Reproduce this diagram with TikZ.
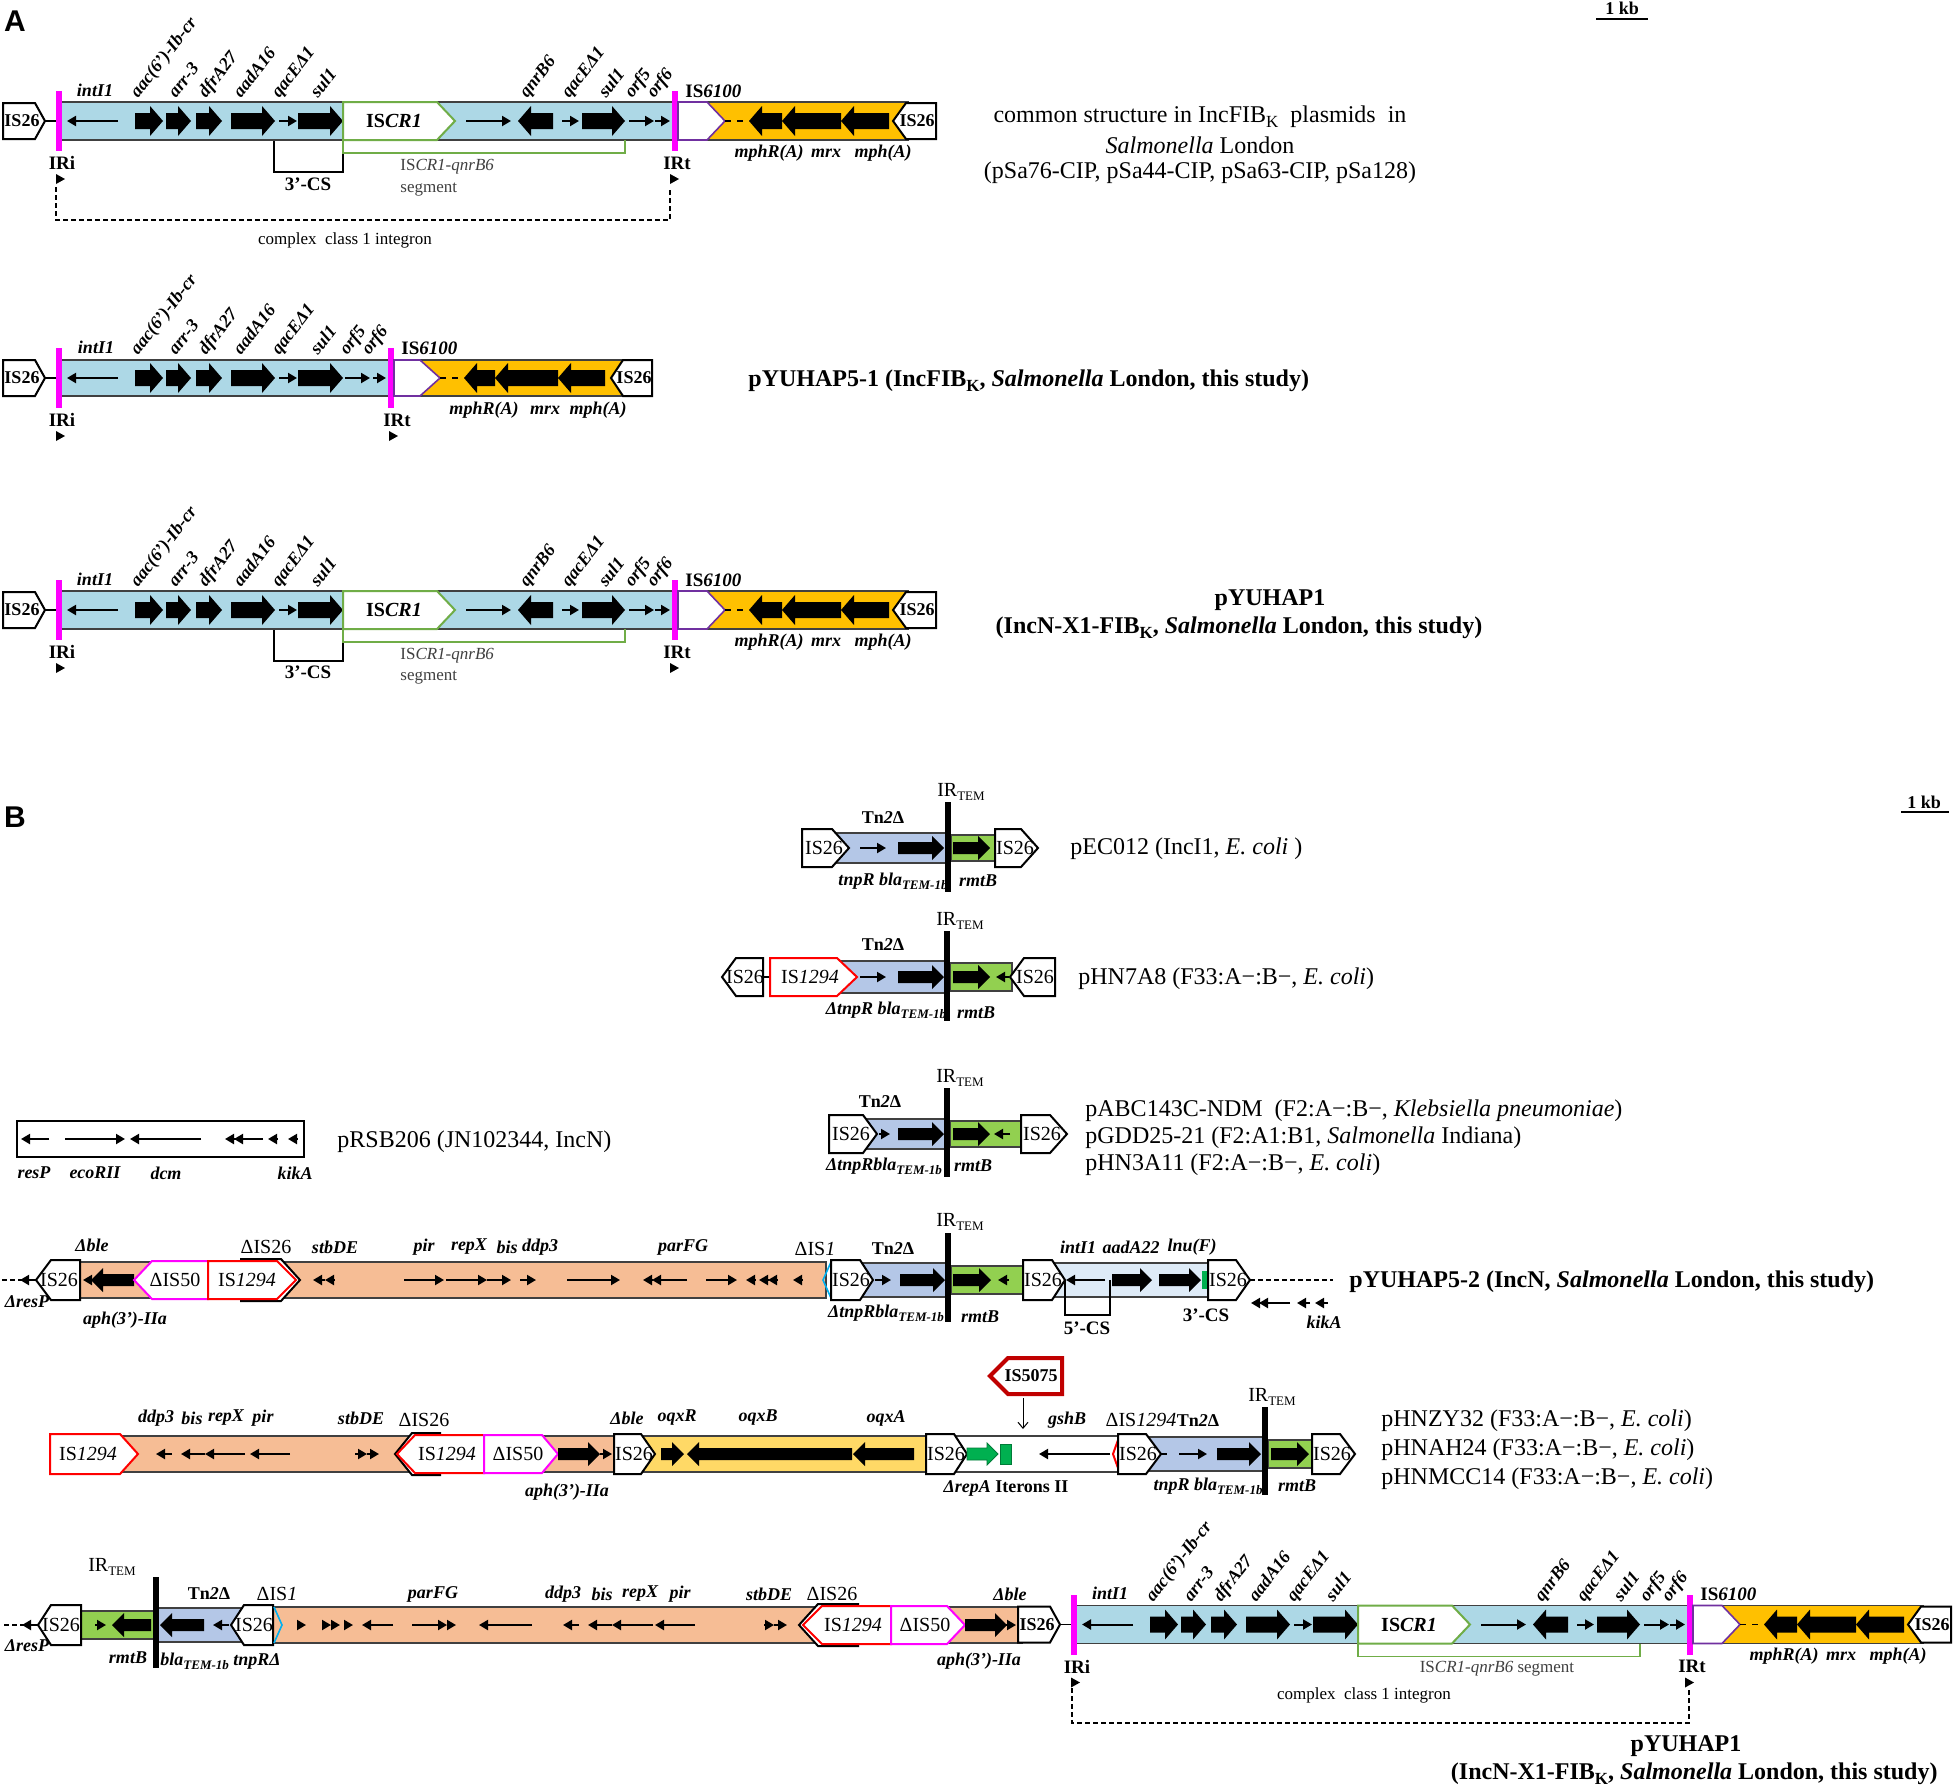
\documentclass[tikz,border=0pt]{standalone}
\usepackage{fontspec}
\setmainfont{Liberation Serif}
\newfontfamily\lsans{Liberation Sans}
\usetikzlibrary{arrows.meta}
\definecolor{cLB}{RGB}{173,216,230}
\definecolor{cGold}{RGB}{255,192,0}
\definecolor{cPeach}{RGB}{246,189,149}
\definecolor{cSteel}{RGB}{180,199,231}
\definecolor{cGreen}{RGB}{146,208,80}
\definecolor{cYel}{RGB}{255,217,102}
\definecolor{cPale}{RGB}{222,235,247}
\definecolor{cMag}{RGB}{255,0,255}
\definecolor{cPurp}{RGB}{112,48,160}
\definecolor{cCR}{RGB}{112,173,71}
\definecolor{cRed}{RGB}{255,0,0}
\definecolor{cDRed}{RGB}{192,0,0}
\definecolor{cCyan}{RGB}{0,176,240}
\definecolor{cGrn}{RGB}{0,176,80}
\definecolor{cTxt}{RGB}{64,64,64}
\newcommand\shpR[6]{\draw[#6] (#1,#4-#5) -- (#2,#4-#5) -- (#3,#4) -- (#2,#4+#5) -- (#1,#4+#5) -- cycle;}
\newcommand\shpL[6]{\draw[#6] (#3,#4-#5) -- (#2,#4-#5) -- (#1,#4) -- (#2,#4+#5) -- (#3,#4+#5) -- cycle;}
\newcommand\bandbox[5]{\filldraw[fill=#5,draw=black!75,line width=0.6pt] (#1,#3-#4) rectangle (#2,#3+#4);}
\newcommand\bR[6]{\fill (#1,#3-#4) -- (#2-#6,#3-#4) -- (#2-#6,#3-#5) -- (#2,#3) -- (#2-#6,#3+#5) -- (#2-#6,#3+#4) -- (#1,#3+#4) -- cycle;}
\newcommand\bL[6]{\fill (#2,#3-#4) -- (#1+#6,#3-#4) -- (#1+#6,#3-#5) -- (#1,#3) -- (#1+#6,#3+#5) -- (#1+#6,#3+#4) -- (#2,#3+#4) -- cycle;}
\newcommand\aR[3]{\bR{#1}{#2}{#3}{8}{15}{13}}
\newcommand\aL[3]{\bL{#1}{#2}{#3}{8}{15}{13}}
\newcommand\xR[3]{\bR{#1}{#2}{#3}{6}{12}{12}}
\newcommand\xL[3]{\bL{#1}{#2}{#3}{6}{12}{12}}
\newcommand\sA[3]{\draw[sarr] (#1,#3) -- (#2,#3);}
\newcommand\tri[2]{\fill (#1-4,#2-5) -- (#1+5,#2) -- (#1-4,#2+5) -- cycle;}
\newcommand\sbs[1]{\raisebox{-0.45ex}{\fontsize{6.5}{7}\selectfont #1}}
\newcommand\sbl[1]{\raisebox{-0.45ex}{\fontsize{8.5}{9}\selectfont #1}}
\tikzset{
 isb/.style={draw=black,line width=1pt,fill=white},
 sarr/.style={line width=1pt,-{Triangle[length=4.5pt,width=5pt]}},
 lbl/.style={font=\fontsize{9}{10}\selectfont\bfseries\itshape,inner sep=0pt},
 rl/.style={lbl,rotate=52,anchor=base west},
 ist/.style={font=\fontsize{9}{10}\selectfont\bfseries,inner sep=0pt},
 isn/.style={font=\fontsize{10}{11}\selectfont,inner sep=0pt},
 bl/.style={font=\fontsize{9.5}{11}\selectfont\bfseries,inner sep=0pt},
 up/.style={font=\fontsize{10}{11}\selectfont,inner sep=0pt},
 sm/.style={font=\fontsize{8.5}{10}\selectfont,inner sep=0pt},
 desc/.style={font=\fontsize{12}{14}\selectfont,inner sep=0pt},
 descb/.style={font=\fontsize{12}{14}\selectfont\bfseries,inner sep=0pt},
 dsh/.style={dash pattern=on 2.5pt off 1.5pt,line width=0.6pt},
}
\newcommand\rowAcore{%
\bandbox{60}{674}{121}{19}{cLB}
\bandbox{700}{908}{121}{19}{cGold}
\shpR{3}{35}{45}{121}{18}{isb}
\node[ist] at (22,121) {IS26};
\draw[line width=0.8pt] (45,121) -- (57,121);
\fill[cMag] (56,91) rectangle (62,151);
\sA{118}{67}{121}
\aR{135}{163}{121}\aR{166}{191}{121}\aR{196}{222}{121}\aR{231}{275}{121}
\sA{279}{297}{121}
\aR{298}{343}{121}
\shpR{343}{437}{455}{121}{19}{draw=cCR,line width=1pt,fill=white}
\node[ist,font=\fontsize{10}{11}\selectfont\bfseries] at (394,121) {IS\textit{CR1}};
\sA{466}{511}{121}
\aL{518}{553}{121}
\sA{562}{579}{121}
\aR{582}{625}{121}
\sA{629}{654}{121}
\sA{655}{670}{121}
\fill[cMag] (672,91) rectangle (678,151);
\shpR{678}{707}{725}{121}{19}{draw=cPurp,line width=0.8pt,fill=white}
\draw[dashed,line width=0.8pt] (725,121) -- (749,121);
\aL{749}{782}{121}\aL{782}{841}{121}\aL{841}{889}{121}
\shpL{893}{906}{936}{121}{18}{isb}
\node[ist] at (917,121) {IS26};
\node[lbl] at (95,90) {intI1};
\node[rl] at (138,99) {aac(6')-Ib-cr};
\node[rl] at (176,99) {arr-3};
\node[rl] at (206,99) {dfrA27};
\node[rl] at (241,99) {aadA16};
\node[rl] at (279,99) {qacEΔ1};
\node[rl] at (318,99) {sul1};
\node[rl] at (527,99) {qnrB6};
\node[rl] at (569,99) {qacEΔ1};
\node[rl] at (606,99) {sul1};
\node[rl] at (632,99) {orf5};
\node[rl] at (654,99) {orf6};
\node[bl,anchor=west] at (685,91) {IS\textit{6100}};
\node[lbl] at (769,153) {mphR(A)};
\node[lbl] at (826,153) {mrx};
\node[lbl] at (883,153) {mph(A)};
\node[bl] at (62,163) {IRi};
\node[bl] at (677,163) {IRt};
\tri{60}{179}\tri{674}{179}
\draw[cCR,line width=0.6pt] (343,140) -- (343,153) -- (625,153) -- (625,140);
}
\begin{document}
\begin{tikzpicture}[x=0.5pt,y=-0.5pt]
\useasboundingbox (0,0) rectangle (1955,1788);
\fill[white] (0,0) rectangle (1955,1788);
% ================= PANEL A =================
\node[font={\lsans\fontsize{15}{16}\selectfont\bfseries}] (labA) at (15,21) {A};
\node[ist] (kbA) at (1622,8) {1 kb};
\draw[line width=0.8pt] (1596,19) -- (1648,19);
% ---- A1
\draw[line width=0.6pt] (274,140) -- (274,172) -- (343,172) -- (343,140);
\rowAcore
\node[bl] at (308,184) {3'-CS};
\node[sm,text=cTxt,anchor=west] at (400,167) {IS\textit{CR1-qnrB6}};
\node[sm,text=cTxt,anchor=west] at (400,190) {segment};
\draw[dsh] (56,187) -- (56,220) -- (670,220) -- (670,187);
\node[sm] at (345,240) {complex\ \ class\ 1 integron};
\node[desc] at (1200,117) {common structure in IncFIB\sbl{K}\ \ plasmids\ \ in};
\node[desc] at (1200,145) {\textit{Salmonella} London};
\node[desc] at (1200,173) {(pSa76-CIP, pSa44-CIP, pSa63-CIP, pSa128)};
% ---- A2
\bandbox{60}{390}{378}{18}{cLB}
\bandbox{416}{625}{378}{18}{cGold}
\shpR{3}{35}{45}{378}{18}{isb}
\node[ist] at (22,378) {IS26};
\draw[line width=0.8pt] (45,378) -- (57,378);
\fill[cMag] (56,348) rectangle (62,408);
\sA{118}{67}{378}
\aR{135}{163}{378}\aR{166}{191}{378}\aR{196}{222}{378}\aR{231}{275}{378}
\sA{279}{297}{378}
\aR{298}{343}{378}
\sA{345}{370}{378}
\sA{373}{386}{378}
\fill[cMag] (388,348) rectangle (394,408);
\shpR{394}{420}{440}{378}{18}{draw=cPurp,line width=0.8pt,fill=white}
\draw[dashed,line width=0.8pt] (440,378) -- (464,378);
\aL{464}{495}{378}\aL{495}{558}{378}\aL{558}{605}{378}
\shpL{611}{623}{652}{378}{18}{isb}
\node[ist] at (634,378) {IS26};
\node[lbl] at (96,347) {intI1};
\node[rl] at (138,356) {aac(6')-Ib-cr};
\node[rl] at (176,356) {arr-3};
\node[rl] at (206,356) {dfrA27};
\node[rl] at (241,356) {aadA16};
\node[rl] at (279,356) {qacEΔ1};
\node[rl] at (318,356) {sul1};
\node[rl] at (347,356) {orf5};
\node[rl] at (369,356) {orf6};
\node[bl,anchor=west] at (401,348) {IS\textit{6100}};
\node[lbl] at (484,410) {mphR(A)};
\node[lbl] at (545,410) {mrx};
\node[lbl] at (598,410) {mph(A)};
\node[bl] at (62,420) {IRi};
\node[bl] at (397,420) {IRt};
\tri{60}{436}\tri{393}{436}
\node[descb,anchor=west] at (748,381) {pYUHAP5-1 (IncFIB\sbl{K}, \textit{Salmonella} London, this study)};
% ---- A3
\begin{scope}[shift={(0,489)}]
\draw[line width=0.6pt] (274,140) -- (274,172) -- (343,172) -- (343,140);
\rowAcore
\node[bl] at (308,183) {3'-CS};
\node[sm,text=cTxt,anchor=west] at (400,167) {IS\textit{CR1-qnrB6}};
\node[sm,text=cTxt,anchor=west] at (400,189) {segment};
\end{scope}
\node[descb] at (1270,600) {pYUHAP1};
\node[descb] at (1239,628) {(IncN-X1-FIB\sbl{K}, \textit{Salmonella} London, this study)};
% ================= PANEL B =================
\node[font={\lsans\fontsize{15}{16}\selectfont\bfseries}] (labB) at (15,817) {B};
\node[ist] (kbB) at (1924,802) {1 kb};
\draw[line width=0.8pt] (1901,812) -- (1949,812);
% ---- pEC012
\bandbox{830}{947}{848}{15}{cSteel}
\bandbox{951}{997}{848}{13}{cGreen}
\shpR{802}{832}{849}{848}{19}{isb}
\node[isn] at (824,848) {IS26};
\sA{860}{886}{848}
\xR{898}{944}{848}
\xR{953}{990}{848}
\shpR{995}{1021}{1038}{848}{19}{isb}
\node[isn] at (1015,848) {IS26};
\node[ist] at (883,818) {Tn\textit{2}Δ};
\node[lbl] at (893,881) {tnpR bla\sbs{TEM-1b}};
\node[lbl] at (978,881) {rmtB};
\fill (945,802) rectangle (951,892);
\node[up] at (961,792) {IR\sbs{TEM}};
\node[desc,anchor=west] at (1070,849) {pEC012 (IncI1, \textit{E. coli} )};
% ---- pHN7A8
\bandbox{836}{947}{977}{16}{cSteel}
\bandbox{950}{1012}{977}{14}{cGreen}
\shpL{722}{736}{763}{977}{19}{isb}
\node[isn] at (745,977) {IS26};
\draw[line width=0.8pt] (763,977) -- (770,977);
\shpR{770}{837}{857}{977}{19}{draw=cRed,line width=1pt,fill=white}
\node[isn] at (810,977) {IS\textit{1294}};
\sA{860}{886}{977}
\xR{898}{944}{977}
\xR{953}{990}{977}
\sA{1009}{996}{977}
\shpL{1010}{1024}{1055}{977}{19}{isb}
\node[isn] at (1035,977) {IS26};
\node[ist] at (883,945) {Tn\textit{2}Δ};
\node[lbl] at (886,1010) {ΔtnpR bla\sbs{TEM-1b}};
\node[lbl] at (976,1013) {rmtB};
\fill (944,931) rectangle (950,1021);
\node[up] at (960,921) {IR\sbs{TEM}};
\node[desc,anchor=west] at (1078,979) {pHN7A8 (F33:A−:B−, \textit{E. coli})};
% ---- pABC143C-NDM
\bandbox{860}{947}{1134}{15}{cSteel}
\bandbox{950}{1024}{1134}{13}{cGreen}
\shpR{829}{863}{877}{1134}{19}{isb}
\node[isn] at (851,1134) {IS26};
\sA{879}{890}{1134}
\xR{898}{944}{1134}
\xR{953}{990}{1134}
\sA{1010}{994}{1134}
\shpR{1021}{1050}{1067}{1134}{19}{isb}
\node[isn] at (1042,1134) {IS26};
\node[ist] at (880,1102) {Tn\textit{2}Δ};
\node[lbl] at (884,1166) {ΔtnpRbla\sbs{TEM-1b}};
\node[lbl] at (973,1166) {rmtB};
\fill (944,1088) rectangle (950,1177);
\node[up] at (960,1078) {IR\sbs{TEM}};
\node[desc,anchor=west] at (1085,1111) {pABC143C-NDM\ \ (F2:A−:B−, \textit{Klebsiella pneumoniae})};
\node[desc,anchor=west] at (1085,1138) {pGDD25-21 (F2:A1:B1, \textit{Salmonella} Indiana)};
\node[desc,anchor=west] at (1085,1165) {pHN3A11 (F2:A−:B−, \textit{E. coli})};
% ---- pRSB206
\draw[line width=0.6pt] (17,1121) rectangle (304,1157);
\sA{49}{21}{1139}
\sA{65}{125}{1139}
\sA{201}{130}{1139}
\sA{236}{225}{1139}\sA{263}{234}{1139}\sA{278}{268}{1139}\sA{297}{288}{1139}
\node[lbl] at (34,1173) {resP};
\node[lbl] at (95,1173) {ecoRII};
\node[lbl] at (166,1173) {dcm};
\node[lbl] at (295,1173) {kikA};
\node[desc,anchor=west] at (337,1142) {pRSB206 (JN102344, IncN)};
% ---- pYUHAP5-2
\draw[dsh] (2,1280) -- (22,1280);
\bandbox{79}{826}{1280}{18}{cPeach}
\bandbox{858}{948}{1280}{17}{cSteel}
\bandbox{951}{1025}{1280}{14}{cGreen}
\bandbox{1050}{1210}{1280}{17}{cPale}
\sA{36}{20}{1280}
\shpL{36}{51}{80}{1280}{20}{isb}
\node[isn] at (59,1280) {IS26};
\sA{93}{83}{1280}
\xL{91}{134}{1280}
\shpL{134}{152}{208}{1280}{19}{draw=cMag,line width=1pt,fill=white}
\node[isn] at (175,1280) {ΔIS50};
\shpR{241}{281}{300}{1280}{21}{isb}
\shpR{208}{277}{296}{1280}{19}{draw=cRed,line width=1pt,fill=white}
\node[isn] at (247,1280) {IS\textit{1294}};
\sA{335}{325}{1280}\sA{325}{313}{1280}
\sA{404}{444}{1280}\sA{446}{487}{1280}\sA{487}{511}{1280}\sA{520}{536}{1280}
\sA{567}{620}{1280}
\sA{687}{652}{1280}\sA{652}{643}{1280}
\sA{706}{737}{1280}
\sA{755}{746}{1280}\sA{768}{759}{1280}\sA{777}{768}{1280}\sA{802}{793}{1280}
\draw[cCyan,line width=0.8pt] (831,1262) -- (823,1280) -- (831,1298);
\shpR{831}{860}{873}{1280}{20}{isb}
\node[isn] at (851,1280) {IS26};
\sA{875}{891}{1280}
\xR{900}{945}{1280}
\xR{953}{991}{1280}
\sA{1009}{998}{1280}
\shpR{1023}{1052}{1065}{1280}{20}{isb}
\node[isn] at (1043,1280) {IS26};
\sA{1105}{1066}{1280}
\xR{1112}{1152}{1280}
\xR{1159}{1201}{1280}
\fill[cGrn] (1202,1271) rectangle (1207,1289);
\shpR{1208}{1236}{1250}{1280}{20}{isb}
\node[isn] at (1228,1280) {IS26};
\draw[dsh] (1250,1280) -- (1333,1280);
\sA{1290}{1259}{1303}\sA{1262}{1251}{1303}\sA{1310}{1297}{1303}\sA{1328}{1315}{1303}
\draw[line width=0.6pt] (1065,1280) -- (1065,1315) -- (1110,1315) -- (1110,1280);
\fill (945,1233) rectangle (951,1322);
\node[lbl] at (92,1245) {Δble};
\node[up] at (266,1247) {ΔIS26};
\node[lbl] at (335,1247) {stbDE};
\node[lbl] at (424,1247) {pir};
\node[lbl] at (469,1247) {repX};
\node[lbl] at (507,1247) {bis};
\node[lbl] at (540,1247) {ddp3};
\node[lbl] at (683,1247) {parFG};
\node[up] at (815,1249) {ΔIS\textit{1}};
\node[ist] at (893,1249) {Tn\textit{2}Δ};
\node[up] at (960,1222) {IR\sbs{TEM}};
\node[lbl] at (1078,1247) {intI1};
\node[lbl] at (1131,1247) {aadA22};
\node[lbl] at (1192,1247) {lnu(F)};
\node[lbl] at (27,1302) {ΔresP};
\node[lbl] at (125,1320) {aph(3')-IIa};
\node[lbl] at (886,1313) {ΔtnpRbla\sbs{TEM-1b}};
\node[lbl] at (980,1317) {rmtB};
\node[bl] at (1087,1328) {5'-CS};
\node[bl] at (1206,1315) {3'-CS};
\node[lbl] at (1324,1322) {kikA};
\node[descb,anchor=west] at (1349,1282) {pYUHAP5-2 (IncN, \textit{Salmonella} London, this study)};
% ---- pHNZY32
\bandbox{120}{616}{1454}{18}{cPeach}
\bandbox{640}{930}{1454}{18}{cYel}
\bandbox{954}{1120}{1454}{18}{white}
\bandbox{1146}{1263}{1454}{17}{cSteel}
\bandbox{1268}{1316}{1454}{14}{cGreen}
\shpR{50}{120}{138}{1454}{20}{draw=cRed,line width=1pt,fill=white}
\node[isn] at (88,1454) {IS\textit{1294}};
\sA{172}{156}{1454}\sA{205}{181}{1454}\sA{245}{205}{1454}\sA{290}{250}{1454}
\sA{355}{367}{1454}\sA{367}{379}{1454}
\shpL{395}{412}{440}{1454}{21}{isb}
\shpL{397}{415}{484}{1454}{19}{draw=cRed,line width=1pt,fill=white}
\node[isn] at (447,1454) {IS\textit{1294}};
\shpR{484}{542}{558}{1454}{19}{draw=cMag,line width=1pt,fill=white}
\node[isn] at (518,1454) {ΔIS50};
\xR{558}{600}{1454}
\sA{600}{612}{1454}
\shpR{614}{641}{655}{1454}{20}{isb}
\node[isn] at (634,1454) {IS26};
\xR{661}{684}{1454}
\xL{687}{852}{1454}
\xL{853}{914}{1454}
\shpR{926}{954}{967}{1454}{20}{isb}
\node[isn] at (946,1454) {IS26};
\filldraw[fill=cGrn,draw=cGrn!70!black,line width=0.4pt] (967,1448) -- (987,1448) -- (987,1443) -- (998,1454) -- (987,1465) -- (987,1460) -- (967,1460) -- cycle;
\filldraw[fill=cGrn,draw=cGrn!70!black,line width=0.4pt] (1000,1444) rectangle (1011,1464);
\sA{1110}{1039}{1454}
\draw[cRed,line width=1pt] (1118,1440) -- (1113,1454) -- (1118,1468);
\shpR{1118}{1146}{1161}{1454}{20}{isb}
\node[isn] at (1138,1454) {IS26};
\draw[line width=0.8pt] (1161,1454) -- (1167,1454);
\sA{1179}{1207}{1454}
\xR{1217}{1261}{1454}
\xR{1271}{1309}{1454}
\shpR{1312}{1340}{1355}{1454}{20}{isb}
\node[isn] at (1332,1454) {IS26};
\fill (1262,1407) rectangle (1268,1495);
\shpL{990}{1008}{1062}{1376}{18}{draw=cDRed,line width=2pt,fill=white}
\node[ist] at (1031,1376) {IS5075};
\draw[line width=0.5pt,-{Straight Barb[length=3pt,width=5pt]}] (1023,1398) -- (1023,1429);
\node[lbl] at (156,1418) {ddp3};
\node[lbl] at (192,1418) {bis};
\node[lbl] at (226,1418) {repX};
\node[lbl] at (263,1418) {pir};
\node[lbl] at (361,1418) {stbDE};
\node[up] at (424,1420) {ΔIS26};
\node[lbl] at (627,1418) {Δble};
\node[lbl] at (677,1418) {oqxR};
\node[lbl] at (758,1418) {oqxB};
\node[lbl] at (886,1418) {oqxA};
\node[lbl] at (1067,1420) {gshB};
\node[up] at (1141,1420) {ΔIS\textit{1294}};
\node[ist] at (1198,1421) {Tn\textit{2}Δ};
\node[up] at (1272,1397) {IR\sbs{TEM}};
\node[lbl] at (567,1492) {aph(3')-IIa};
\node[ist] at (1006,1488) {\textit{ΔrepA} Iterons II};
\node[lbl] at (1208,1486) {tnpR bla\sbs{TEM-1b}};
\node[lbl] at (1297,1486) {rmtB};
\node[desc,anchor=west] at (1381,1421) {pHNZY32 (F33:A−:B−, \textit{E. coli})};
\node[desc,anchor=west] at (1381,1450) {pHNAH24 (F33:A−:B−, \textit{E. coli})};
\node[desc,anchor=west] at (1381,1479) {pHNMCC14 (F33:A−:B−, \textit{E. coli})};
% ---- pYUHAP1 (bottom)
\draw[dsh] (4,1625) -- (24,1625);
\bandbox{81}{155}{1625}{14}{cGreen}
\bandbox{155}{245}{1625}{17}{cSteel}
\bandbox{273}{1022}{1625}{18}{cPeach}
\sA{38}{22}{1625}
\shpL{38}{51}{81}{1625}{20}{isb}
\node[isn] at (61,1625) {IS26};
\sA{95}{106}{1625}
\xL{112}{151}{1625}
\xL{160}{204}{1625}
\sA{229}{213}{1625}
\shpL{231}{244}{273}{1625}{20}{isb}
\node[isn] at (254,1625) {IS26};
\draw[cCyan,line width=0.8pt] (274,1607) -- (282,1625) -- (274,1643);
\sA{297}{306}{1625}\sA{322}{331}{1625}\sA{331}{340}{1625}\sA{344}{353}{1625}
\sA{393}{362}{1625}
\sA{412}{447}{1625}\sA{447}{456}{1625}
\sA{532}{479}{1625}
\sA{579}{563}{1625}\sA{612}{588}{1625}\sA{653}{612}{1625}\sA{695}{655}{1625}
\sA{764}{774}{1625}\sA{774}{787}{1625}
\shpL{799}{818}{858}{1625}{21}{isb}
\shpL{803}{822}{891}{1625}{19}{draw=cRed,line width=1pt,fill=white}
\node[isn] at (853,1625) {IS\textit{1294}};
\shpR{891}{947}{965}{1625}{19}{draw=cMag,line width=1pt,fill=white}
\node[isn] at (925,1625) {ΔIS50};
\xR{965}{1007}{1625}
\sA{1006}{1016}{1625}
\fill (153,1577) rectangle (159,1668);
\node[up] at (112,1567) {IR\sbs{TEM}};
\node[ist] at (209,1594) {Tn\textit{2}Δ};
\node[up] at (277,1594) {ΔIS\textit{1}};
\node[lbl] at (433,1594) {parFG};
\node[lbl] at (563,1594) {ddp3};
\node[lbl] at (602,1594) {bis};
\node[lbl] at (640,1594) {repX};
\node[lbl] at (680,1594) {pir};
\node[lbl] at (769,1594) {stbDE};
\node[up] at (832,1594) {ΔIS26};
\node[lbl] at (1010,1594) {Δble};
\node[lbl] at (27,1646) {ΔresP};
\node[lbl] at (128,1658) {rmtB};
\node[lbl,anchor=west] at (160,1661) {bla\sbs{TEM-1b} tnpRΔ};
\node[lbl] at (979,1661) {aph(3')-IIa};
\begin{scope}[shift={(1015,1503.5)}]
\rowAcore
\end{scope}
\node[sm,text=cTxt] at (1497,1669) {IS\textit{CR1-qnrB6} segment};
\draw[dsh] (1072,1688) -- (1072,1723) -- (1689,1723) -- (1689,1688);
\node[sm] at (1364,1695) {complex\ \ class\ 1 integron};
\node[descb] at (1686,1746) {pYUHAP1};
\node[descb,anchor=east] at (1938,1774) {(IncN-X1-FIB\sbl{K}, \textit{Salmonella} London, this study)};
\end{tikzpicture}
\end{document}
